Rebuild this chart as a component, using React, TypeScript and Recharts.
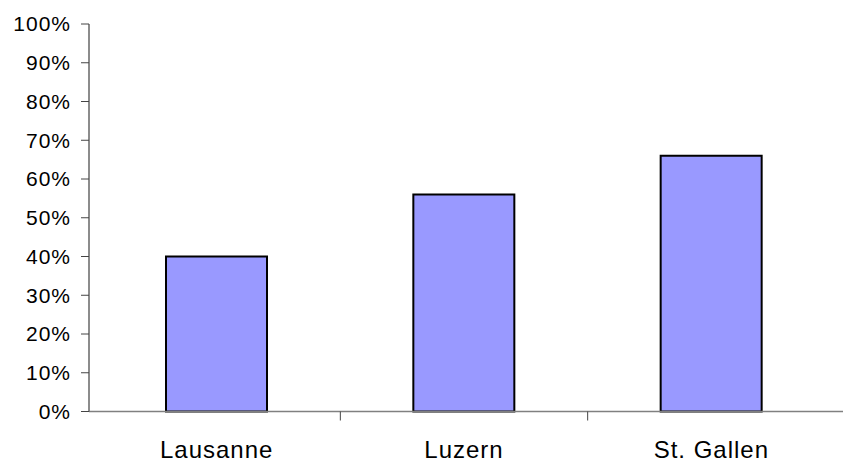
import { BarChart, Bar, XAxis, YAxis } from "recharts";

const cities = ["Lausanne", "Luzern", "St. Gallen"];
const shares = [0.4, 0.56, 0.66];
const yTicks = [0, 0.1, 0.2, 0.3, 0.4, 0.5, 0.6, 0.7, 0.8, 0.9, 1];

const data = cities.map((city, i) => ({ city, share: shares[i] }));

const FONT = "'Liberation Sans', Arial, Helvetica, sans-serif";

const CityTick = (props: any) => {
  const { x, y, payload, index, visibleTicksCount } = props;
  const axisY = y - 28;
  const half = payload?.offset ?? 123.7;
  return (
    <g>
      {index < visibleTicksCount - 1 && (
        <line x1={x + half} x2={x + half} y1={axisY} y2={axisY + 9} stroke="#444" strokeWidth={1} />
      )}
      <text
        x={x}
        y={axisY + 46}
        textAnchor="middle"
        fontFamily={FONT}
        fontSize={24}
        letterSpacing={1}
        fill="#000"
      >
        {payload.value}
      </text>
    </g>
  );
};

export default function App() {
  return (
    <div style={{ position: "absolute", left: 0, top: 0, background: "#fff" }}>
      <BarChart
        width={843}
        height={461}
        data={data}
        margin={{ top: 24, right: 0, bottom: 0, left: 0 }}
      >
        <XAxis
          dataKey="city"
          height={49.5}
          tickLine={false}
          tickSize={8}
          tickMargin={20}
          padding={{ left: 4, right: 8 }}
          axisLine={{ stroke: "#808080", strokeWidth: 1.5 }}
          tick={<CityTick />}
          interval={0}
        />
        <YAxis
          width={89}
          domain={[0, 1]}
          ticks={yTicks}
          interval={0}
          tickFormatter={(v: number) => `${Math.round(v * 100)}%`}
          tickSize={8}
          tickMargin={10}
          tickLine={{ stroke: "#444" }}
          axisLine={{ stroke: "#666", strokeWidth: 1.5 }}
          tick={{ fontFamily: FONT, fontSize: 21, letterSpacing: 1, fill: "#000" }}
        />
        <Bar
          dataKey="share"
          barSize={101}
          fill="#9999FF"
          stroke="#000"
          strokeWidth={2}
          isAnimationActive={false}
        />
      </BarChart>
    </div>
  );
}
